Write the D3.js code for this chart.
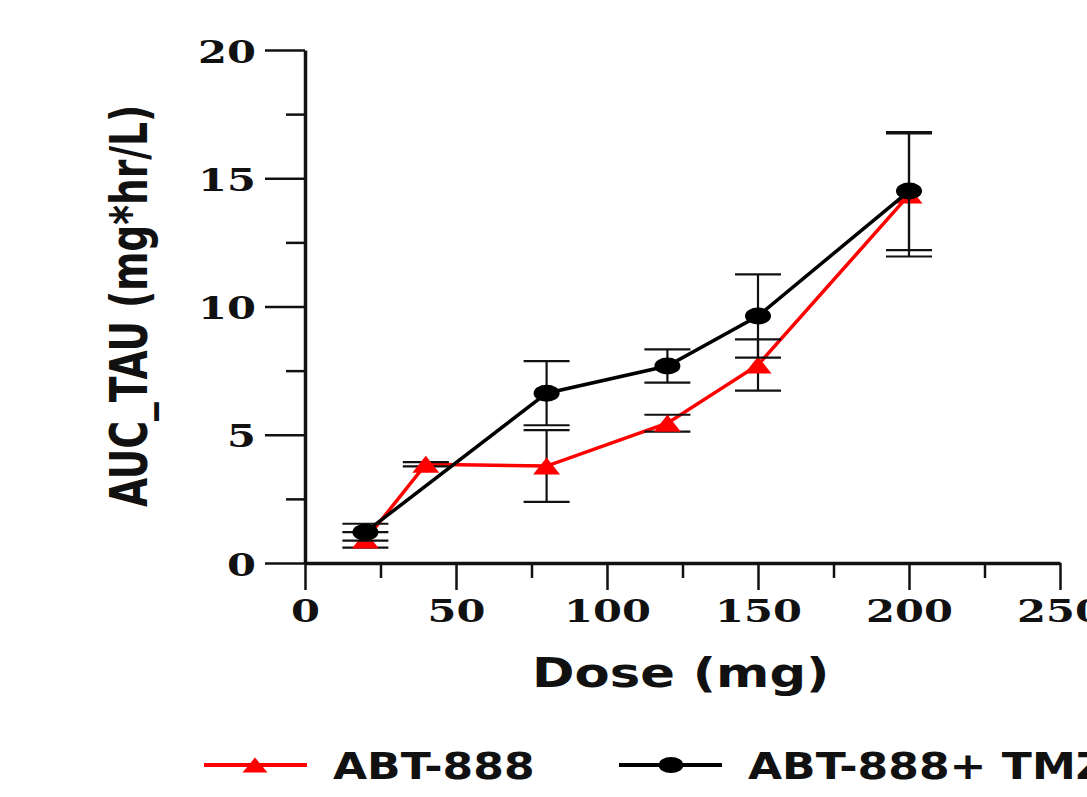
<!DOCTYPE html>
<html>
<head>
<meta charset="utf-8">
<script src="https://cdn.jsdelivr.net/npm/d3@7"></script>
<style>
  body { margin: 0; background: #fff; }
  svg { display: block; }
</style>
</head>
<body>
<svg id="chart" width="1087" height="797"></svg>
<script>
// values
const seriesNames = ['ABT-888', 'ABT-888+ TMZ'];
const doseA = [20, 40, 80, 120, 150, 200];
const aucA  = [0.9, 3.85, 3.78, 5.45, 7.72, 14.35];
const sdA   = [0.3, 0.08, 1.4, 0.33, 1.0, 2.4];
const doseB = [20, 80, 120, 150, 200];
const aucB  = [1.2, 6.62, 7.68, 9.63, 14.5];
const sdB   = [0.33, 1.25, 0.65, 1.62, 2.3];
const xTicks = [0, 50, 100, 150, 200, 250];
const xMinor = [25, 75, 125, 175, 225];
const yTicks = [0, 5, 10, 15, 20];
const yMinor = [2.5, 7.5, 12.5, 17.5];

var svg = d3.select('#chart');
var sx = 1.3;   // the picture is stretched sideways

var x = d3.scaleLinear().domain([0, 250]).range([305, 1060]);
var y = d3.scaleLinear().domain([0, 20]).range([563, 50]);

// minor ticks first, then majors with the axis line
svg.append('g').attr('transform', 'translate(0,563)')
    .call(d3.axisBottom(x).tickValues(xMinor).tickSize(15).tickSizeOuter(0).tickFormat(''))
    .call(g => g.select('.domain').remove());
svg.append('g').attr('transform', 'translate(305,0)')
    .call(d3.axisLeft(y).tickValues(yMinor).tickSize(19).tickSizeOuter(0).tickFormat(''))
    .call(g => g.select('.domain').remove());

var xa = svg.append('g').attr('transform', 'translate(0,563)')
    .call(d3.axisBottom(x).tickValues(xTicks).tickSize(27).tickSizeOuter(0));
var ya = svg.append('g').attr('transform', 'translate(305,0)')
    .call(d3.axisLeft(y).tickValues(yTicks).tickSize(40).tickSizeOuter(0));

svg.selectAll('.tick line').attr('stroke', '#111').attr('stroke-width', 2.5);
svg.selectAll('.domain').attr('stroke', '#111').attr('stroke-width', 3.5);

// tick labels: bold serif, stretched like the source
xa.selectAll('.tick text')
    .attr('y', null).attr('dy', null)
    .attr('transform', 'translate(0,59) scale(' + sx + ',1)')
    .attr('font-family', 'DejaVu Serif').attr('font-weight', 'bold')
    .attr('font-size', 32).attr('fill', '#111');
ya.selectAll('.tick text')
    .attr('x', null).attr('dy', null)
    .attr('transform', 'translate(-49,12) scale(' + sx + ',1)')
    .attr('font-family', 'DejaVu Serif').attr('font-weight', 'bold')
    .attr('font-size', 32).attr('fill', '#111');

// axis titles
svg.append('text')
    .attr('transform', 'translate(532,687) scale(1.28,1)')
    .attr('font-family', 'DejaVu Sans').attr('font-weight', 'bold')
    .attr('font-size', 40).attr('fill', '#111')
    .text('Dose (mg)');
svg.append('text')
    .attr('transform', 'translate(147,306) scale(1.38,1) rotate(-90)')
    .attr('text-anchor', 'middle')
    .attr('font-family', 'DejaVu Sans').attr('font-weight', 'bold')
    .attr('font-size', 37.6).attr('fill', '#111')
    .text('AUC_TAU (mg*hr/L)');

var tri = 'M0,-8.5L13.5,8.5L-13.5,8.5Z';

function drawSeries(dose, auc, sd, color, marker) {
    var data = dose.map((d, i) => ({dose: d, auc: auc[i], sd: sd[i]}));
    var line = d3.line().x(d => x(d.dose)).y(d => y(d.auc));

    svg.append('path').datum(data)
        .attr('d', line)
        .attr('fill', 'none')
        .attr('stroke', color)
        .attr('stroke-width', 3.5);

    var eb = svg.append('g').attr('stroke', '#111').attr('stroke-width', 2.2);
    data.forEach(function(d) {
        var cx = x(d.dose), lo = y(d.auc - d.sd), hi = y(d.auc + d.sd);
        eb.append('line').attr('x1', cx).attr('x2', cx).attr('y1', lo).attr('y2', hi);
        eb.append('line').attr('x1', cx - 23).attr('x2', cx + 23).attr('y1', lo).attr('y2', lo);
        eb.append('line').attr('x1', cx - 23).attr('x2', cx + 23).attr('y1', hi).attr('y2', hi);
    });

    if (marker == 'tri') {
        svg.selectAll(null).data(data).enter().append('path')
            .attr('d', tri)
            .attr('transform', d => 'translate(' + x(d.dose) + ',' + y(d.auc) + ')')
            .attr('fill', color);
    } else {
        svg.selectAll(null).data(data).enter().append('ellipse')
            .attr('cx', d => x(d.dose)).attr('cy', d => y(d.auc))
            .attr('rx', 13).attr('ry', 8.5)
            .attr('fill', color);
    }
}

drawSeries(doseA, aucA, sdA, '#ff0000', 'tri');
drawSeries(doseB, aucB, sdB, '#000000', 'dot');

// legend
var legend = [
    {name: seriesNames[0], color: '#ff0000', marker: 'tri', x0: 204},
    {name: seriesNames[1], color: '#000000', marker: 'dot', x0: 619}
];
legend.forEach(function(l) {
    var g = svg.append('g').attr('transform', 'translate(' + l.x0 + ',765)');
    g.append('line').attr('x1', 0).attr('x2', 103).attr('y1', 0).attr('y2', 0)
        .attr('stroke', l.color).attr('stroke-width', 4);
    if (l.marker == 'tri')
        g.append('path').attr('d', 'M0,-7.5L12.5,7.5L-12.5,7.5Z')
            .attr('transform', 'translate(51,0)').attr('fill', l.color);
    else
        g.append('ellipse').attr('cx', 52).attr('cy', 0).attr('rx', 12.5).attr('ry', 8)
            .attr('fill', l.color);
    g.append('text')
        .attr('transform', 'translate(129,14) scale(1.16,1)')
        .attr('font-family', 'DejaVu Sans').attr('font-weight', 'bold')
        .attr('font-size', 38).attr('fill', '#111')
        .text(l.name);
});
</script>
</body>
</html>
